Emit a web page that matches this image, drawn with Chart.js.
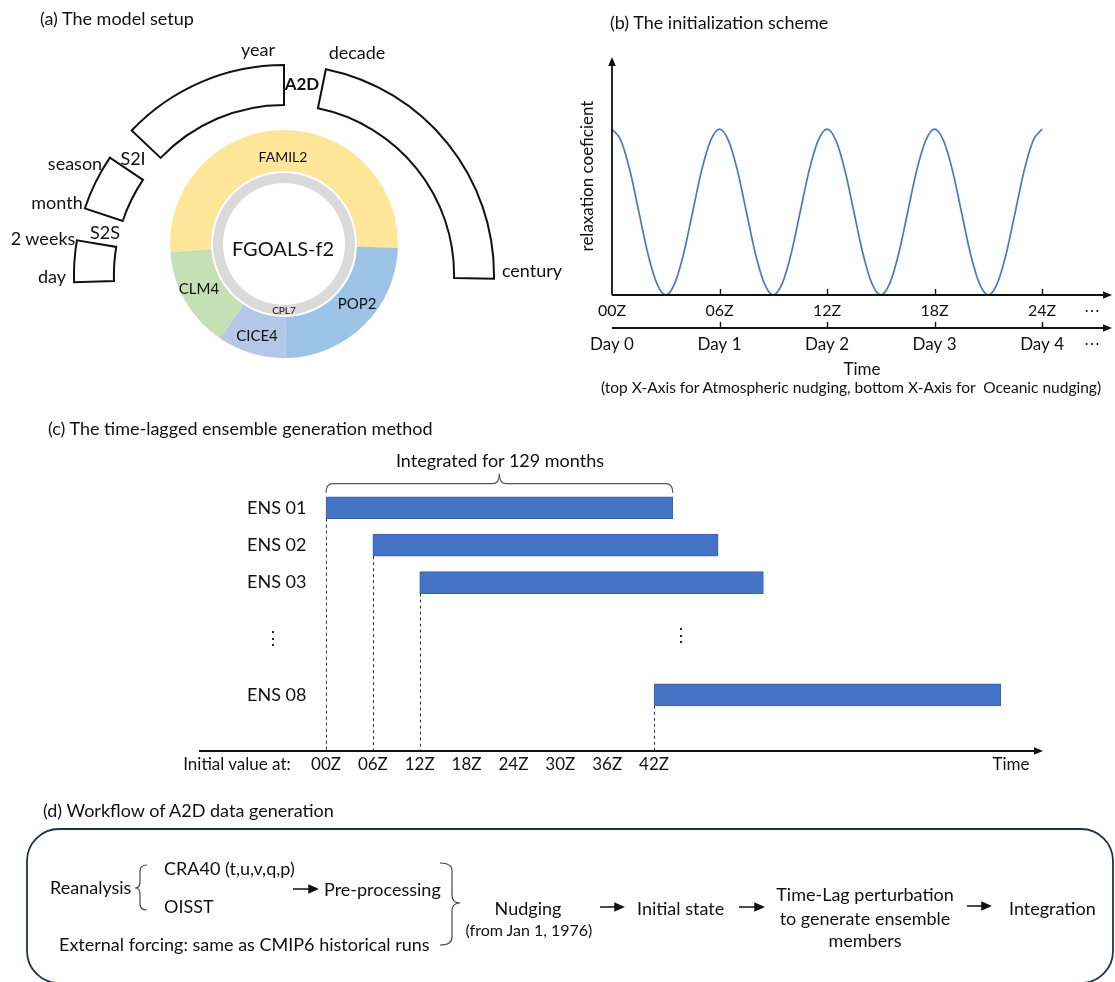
<!DOCTYPE html>
<html lang="en">
<head>
<meta charset="UTF-8">
<title>A2D: model setup, initialization, time-lagged ensemble, workflow</title>
<script src="https://cdn.jsdelivr.net/npm/chart.js@4.4.1/dist/chart.umd.min.js"></script>
<style>
  html, body { margin: 0; padding: 0; background: #fff; }
  body { font-family: 'Lato', 'Noto Sans', sans-serif; color: #111; }
  #page { position: relative; width: 1115px; height: 982px; overflow: hidden; }
  #page canvas, #page svg { position: absolute; }
  .t { position: absolute; white-space: pre; line-height: 1; font-size: 18px; }
  .c { transform: translate(-50%, -50%); }
  .l { transform: translate(0, -50%); }
</style>
</head>
<body>
<div id="page">
  <canvas id="scaleRing" width="422" height="422" style="left:73px; top:64px;"></canvas>
  <canvas id="modelRing" width="228" height="228" style="left:170px; top:130px;"></canvas>
  <canvas id="nudgeChart" width="545" height="350" style="left:570px; top:30px;"></canvas>
  <canvas id="lagChart" width="965" height="345" style="left:150px; top:440px;"></canvas>
  <svg width="1115" height="982" style="left:0; top:0;">
    <rect x="27" y="829" width="1086" height="154" rx="32" ry="32" fill="none" stroke="#22304d" stroke-width="1.8"/>
    <path d="M147,865 Q140,865 140,871 L140,882 Q140,888 135,888 Q140,888 140,894 L140,904 Q140,910 147,910" fill="none" stroke="#444" stroke-width="1.2"/>
    <path d="M440,863 Q452,863 452,871 L452,895 Q452,903 460,903 Q452,903 452,911 L452,937 Q452,945 440,945" fill="none" stroke="#444" stroke-width="1.2"/>
    <g stroke="#111" stroke-width="1.5" fill="#111">
      <line x1="293" y1="889" x2="310" y2="889"/><polygon points="317,889 309,885.5 309,892.5"/>
      <line x1="600" y1="907" x2="616" y2="907"/><polygon points="623,907 615,903.5 615,910.5"/>
      <line x1="739" y1="907" x2="756" y2="907"/><polygon points="763,907 755,903.5 755,910.5"/>
      <line x1="967" y1="906" x2="983" y2="906"/><polygon points="990,906 982,902.5 982,909.5"/>
    </g>
  </svg>
</div>

<script>
// (a) model components (share of the ring, degrees) and the time-scale ring
const components = ['FAMIL2', 'POP2', 'CICE4', 'CLM4'];
const componentShare = [186, 87, 35, 52];
const componentColors = ['#ffe699', '#9dc3e6', '#b4c7e7', '#c5e0b4'];
const ringParts = ['', 'decade-century', '', 'day-2 weeks', '', 'season-month', '', 'year'];
const ringSpan = [11.5, 79.5, 177, 11.5, 9, 15.5, 9.5, 46.5];

// (b) relaxation coefficient, read every half hour
const hours = [0, 0.5, 1, 1.5, 2, 2.5, 3, 3.5, 4, 4.5, 5, 5.5,
               6, 6.5, 7, 7.5, 8, 8.5, 9, 9.5, 10, 10.5, 11, 11.5,
               12, 12.5, 13, 13.5, 14, 14.5, 15, 15.5, 16, 16.5, 17, 17.5,
               18, 18.5, 19, 19.5, 20, 20.5, 21, 21.5, 22, 22.5, 23, 23.5, 24];
const relaxation = [1, 0.93, 0.75, 0.5, 0.25, 0.07, 0, 0.07, 0.25, 0.5, 0.75, 0.93,
                    1, 0.93, 0.75, 0.5, 0.25, 0.07, 0, 0.07, 0.25, 0.5, 0.75, 0.93,
                    1, 0.93, 0.75, 0.5, 0.25, 0.07, 0, 0.07, 0.25, 0.5, 0.75, 0.93,
                    1, 0.93, 0.75, 0.5, 0.25, 0.07, 0, 0.07, 0.25, 0.5, 0.75, 0.93, 1];
const zTicks = [0, 6, 12, 18, 24];
const zLabels = ['00Z', '06Z', '12Z', '18Z', '24Z'];
const dayLabels = ['Day 0', 'Day 1', 'Day 2', 'Day 3', 'Day 4'];

// (c) time-lagged members: start and end (hours after 00Z)
const members = ['ENS 01', 'ENS 02', 'ENS 03', '', '', 'ENS 08', ''];
const startHour = [0, 6, 12, null, null, 42, null];
const endHour = [44.4, 50.2, 56, null, null, 86.4, null];
const lagTicks = [0, 6, 12, 18, 24, 30, 36, 42];
const lagLabels = ['00Z', '06Z', '12Z', '18Z', '24Z', '30Z', '36Z', '42Z'];

Chart.defaults.font.family = "'Lato', 'Noto Sans', sans-serif";
Chart.defaults.color = '#111';
Chart.defaults.animation = false;
Chart.defaults.events = [];
Chart.defaults.plugins.legend.display = false;
Chart.defaults.plugins.tooltip.enabled = false;

function arrowLine(ctx, x1, y1, x2, y2, head) {
  const a = Math.atan2(y2 - y1, x2 - x1);
  const w = head * 0.42;
  ctx.beginPath();
  ctx.moveTo(x1, y1);
  ctx.lineTo(x2 - Math.cos(a) * head * 0.8, y2 - Math.sin(a) * head * 0.8);
  ctx.stroke();
  ctx.beginPath();
  ctx.moveTo(x2, y2);
  ctx.lineTo(x2 - head * Math.cos(a) + w * Math.sin(a), y2 - head * Math.sin(a) - w * Math.cos(a));
  ctx.lineTo(x2 - head * Math.cos(a) - w * Math.sin(a), y2 - head * Math.sin(a) + w * Math.cos(a));
  ctx.closePath();
  ctx.fill();
}

// ---- (a) outer ring of time scales
new Chart(document.getElementById('scaleRing'), {
  type: 'doughnut',
  data: {
    labels: ringParts,
    datasets: [{
      data: ringSpan,
      backgroundColor: ringParts.map(p => p ? '#fff' : 'rgba(0,0,0,0)'),
      borderColor: '#111',
      borderWidth: ringParts.map(p => p ? 2 : 0),
      borderJoinStyle: 'miter',
      hoverOffset: 0
    }]
  },
  options: { responsive: false, cutout: '81%' }
});

// ---- (a) FGOALS-f2 components
new Chart(document.getElementById('modelRing'), {
  type: 'doughnut',
  data: {
    labels: components,
    datasets: [
      { data: componentShare, backgroundColor: componentColors, borderWidth: 0, weight: 41, hoverOffset: 0 },
      { data: [1], backgroundColor: 'rgba(0,0,0,0)', borderWidth: 0, weight: 2, hoverOffset: 0 },
      { data: [1], backgroundColor: '#dadada', borderWidth: 0, weight: 10, hoverOffset: 0 }
    ]
  },
  options: { responsive: false, rotation: -94, cutout: '53.5%' }
});

// ---- (b) initialization scheme
const arrowAxes = {
  id: 'arrowAxes',
  afterDraw(chart) {
    const { ctx, chartArea: a, scales: { x, x2 } } = chart;
    ctx.save();
    ctx.strokeStyle = '#111';
    ctx.fillStyle = '#111';
    ctx.lineWidth = 1.8;
    arrowLine(ctx, a.left, a.bottom, a.left, a.top, 9);
    arrowLine(ctx, a.left, a.bottom, a.right, a.bottom, 9);
    arrowLine(ctx, a.left, x2.top, a.right, x2.top, 9);
    ctx.lineWidth = 1.4;
    zTicks.slice(1).forEach(v => {
      const px = Math.round(x.getPixelForValue(v)) + 0.5;
      ctx.beginPath();
      ctx.moveTo(px, a.bottom); ctx.lineTo(px, a.bottom - 6);
      ctx.moveTo(px, x2.top); ctx.lineTo(px, x2.top - 6);
      ctx.stroke();
    });
    ctx.restore();
  }
};

new Chart(document.getElementById('nudgeChart'), {
  type: 'line',
  data: {
    datasets: [{
      data: hours.map((h, i) => ({ x: h, y: relaxation[i] })),
      borderColor: '#4a7cc4',
      borderWidth: 1.7,
      pointRadius: 0,
      cubicInterpolationMode: 'monotone',
      clip: 8
    }]
  },
  options: {
    responsive: false,
    layout: { padding: { top: 27, right: 3, left: 0, bottom: 0 } },
    scales: {
      x: {
        type: 'linear', position: 'bottom', min: 0, max: 27.9,
        grid: { display: false }, border: { display: false },
        afterBuildTicks: s => { s.ticks = zTicks.map(v => ({ value: v })); },
        afterFit: s => { s.height = 33; },
        ticks: { autoSkip: false, maxRotation: 0, padding: -2, font: { size: 16 },
                 callback: (v, i) => zLabels[i] }
      },
      x2: {
        type: 'linear', position: 'bottom', min: 0, max: 27.9,
        grid: { display: false }, border: { display: false },
        afterBuildTicks: s => { s.ticks = zTicks.map(v => ({ value: v })); },
        afterFit: s => { s.height = 52; },
        ticks: { autoSkip: false, maxRotation: 0, padding: -2, font: { size: 17 },
                 callback: (v, i) => dayLabels[i] },
        title: { display: true, text: 'Time', font: { size: 17 }, padding: { top: 0, bottom: 0 } }
      },
      y: {
        min: 0, max: 1.434,
        grid: { display: false }, border: { display: false },
        ticks: { display: false },
        title: { display: true, text: 'relaxation coeficient', font: { size: 17 }, padding: { top: 7, bottom: 0 } },
        afterFit: s => { s.width = 42; }
      }
    }
  },
  plugins: [arrowAxes]
});

// ---- (c) time-lagged ensemble
const lagGuides = {
  id: 'lagGuides',
  beforeDatasetsDraw(chart) {
    const { ctx, chartArea: a } = chart;
    const bars = chart.getDatasetMeta(0).data;
    ctx.save();
    ctx.strokeStyle = '#333';
    ctx.lineWidth = 1;
    ctx.setLineDash([3, 3]);
    bars.forEach((bar, i) => {
      if (startHour[i] === null) return;
      const { base, y, height } = bar.getProps(['base', 'y', 'height'], true);
      const px = Math.round(base) + 0.5;
      ctx.beginPath();
      ctx.moveTo(px, y + height / 2);
      ctx.lineTo(px, a.bottom);
      ctx.stroke();
    });
    ctx.restore();
  },
  afterDatasetsDraw(chart) {
    const { ctx, chartArea: a, scales: { x } } = chart;
    ctx.save();
    ctx.strokeStyle = '#111';
    ctx.fillStyle = '#111';
    ctx.lineWidth = 1.8;
    arrowLine(ctx, a.left, a.bottom, a.right, a.bottom, 9);

    // brace over the first member
    const first = chart.getDatasetMeta(0).data[0];
    const top = first.y - first.height / 2;
    const x0 = x.getPixelForValue(startHour[0]);
    const x1 = x.getPixelForValue(endHour[0]);
    const m = (x0 + x1) / 2, r = 7;
    const yEnd = top - 4, yLine = top - 13, yTip = top - 23;
    ctx.strokeStyle = '#555';
    ctx.lineWidth = 1.2;
    ctx.beginPath();
    ctx.moveTo(x0, yEnd);
    ctx.quadraticCurveTo(x0, yLine, x0 + r, yLine);
    ctx.lineTo(m - r, yLine);
    ctx.quadraticCurveTo(m, yLine, m, yTip);
    ctx.quadraticCurveTo(m, yLine, m + r, yLine);
    ctx.lineTo(x1 - r, yLine);
    ctx.quadraticCurveTo(x1, yLine, x1, yEnd);
    ctx.stroke();
    ctx.restore();
  }
};

new Chart(document.getElementById('lagChart'), {
  type: 'bar',
  data: {
    labels: members,
    datasets: [{
      data: members.map((m, i) => startHour[i] === null ? null : [startHour[i], endHour[i]]),
      backgroundColor: '#4472c4',
      borderColor: '#3a63ad',
      borderWidth: 1,
      borderSkipped: false,
      barThickness: 22
    }]
  },
  options: {
    indexAxis: 'y',
    responsive: false,
    layout: { padding: { top: 49, left: 49, right: 72, bottom: 0 } },
    scales: {
      x: {
        type: 'linear', min: -16.26, max: 91.8,
        grid: { display: false }, border: { display: false },
        afterBuildTicks: s => { s.ticks = lagTicks.map(v => ({ value: v })); },
        afterFit: s => { s.height = 34; s.paddingLeft = 0; s.paddingRight = 0; },
        ticks: { autoSkip: false, maxRotation: 0, padding: -5, font: { size: 17 },
                 callback: (v, i) => lagLabels[i] }
      },
      y: {
        grid: { display: false }, border: { display: false },
        afterFit: s => { s.width = 0; s.paddingTop = 0; s.paddingBottom = 0; },
        ticks: { mirror: true, padding: 48, font: { size: 18 } }
      }
    }
  },
  plugins: [lagGuides]
});

// ---- text annotations
const page = document.getElementById('page');
function note(text, x, y, size, anchor, bold) {
  const d = document.createElement('div');
  d.className = 't ' + (anchor || 'c');
  d.textContent = text;
  d.style.left = x + 'px';
  d.style.top = y + 'px';
  if (size) d.style.fontSize = size + 'px';
  if (bold) d.style.fontWeight = '700';
  page.appendChild(d);
}

// (a)
note('(a) The model setup', 40, 18, 18, 'l');
note('year', 258, 49);
note('decade', 357, 52);
note('A2D', 302, 83, 17, 'c', true);
note('century', 532, 270);
note('season', 75, 163);
note('S2I', 133, 158);
note('month', 57, 202);
note('2 weeks', 43, 238);
note('S2S', 105, 232);
note('day', 52, 276);
note('FAMIL2', 283, 157, 14);
note('FGOALS-f2', 283, 248, 20);
note('CLM4', 199, 288, 15);
note('POP2', 357, 303, 15);
note('CPL7', 284, 310, 10);
note('CICE4', 257, 335, 15);

// (b)
note('(b) The initialization scheme', 610, 22, 18, 'l');
note('\u22EF', 1092, 310, 16);
note('\u22EF', 1092, 343, 16);
note('(top X-Axis for Atmospheric nudging, bottom X-Axis for  Oceanic nudging)', 851, 388, 15.5);

// (c)
note('(c) The time-lagged ensemble generation method', 48, 428, 18, 'l');
note('Integrated for 129 months', 500, 460);
note('Initial value at:', 237, 763, 17);
note('Time', 1011, 763, 17);
note('\u22EE', 273, 637, 18);
note('\u22EE', 681, 634, 18);

// (d)
note('(d) Workflow of A2D data generation', 43, 810, 18, 'l');
note('Reanalysis', 50, 887, 18, 'l');
note('CRA40 (t,u,v,q,p)', 164, 868, 18, 'l');
note('OISST', 164, 906, 18, 'l');
note('Pre-processing', 324, 889, 18, 'l');
note('External forcing: same as CMIP6 historical runs', 59, 944, 18, 'l');
note('Nudging', 528, 908);
note('(from Jan 1, 1976)', 529, 930, 16);
note('Initial state', 637, 908, 18, 'l');
note('Time-Lag perturbation', 865, 894);
note('to generate ensemble', 865, 918);
note('members', 865, 940);
note('Integration', 1009, 908, 18, 'l');
</script>
</body>
</html>
